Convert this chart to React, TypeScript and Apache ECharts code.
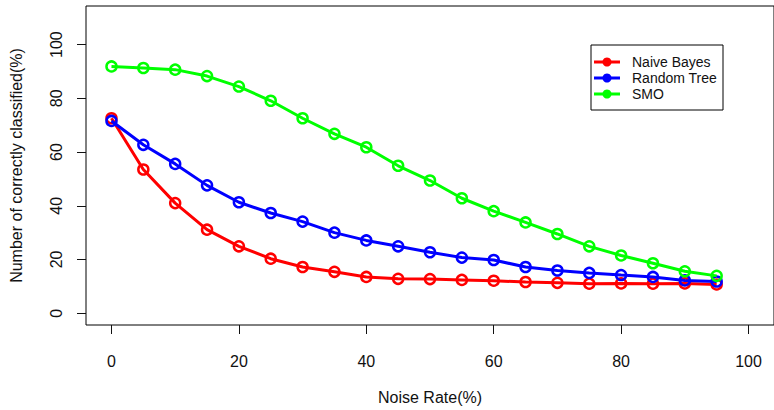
import React, { useEffect, useRef } from "react";
import * as echarts from "echarts";

const noiseRates = [0, 5, 10, 15, 20, 25, 30, 35, 40, 45, 50, 55, 60, 65, 70, 75, 80, 85, 90, 95];
const naiveBayes = [72.6, 53.5, 41.0, 31.1, 24.9, 20.3, 17.2, 15.4, 13.5, 12.8, 12.7, 12.4, 12.1, 11.6, 11.3, 11.0, 11.1, 11.0, 11.1, 10.7];
const randomTree = [71.6, 62.7, 55.6, 47.6, 41.3, 37.3, 34.1, 30.0, 27.1, 24.9, 22.7, 20.7, 19.8, 17.2, 15.9, 15.0, 14.2, 13.5, 12.2, 11.8];
const smo = [91.9, 91.3, 90.7, 88.3, 84.4, 79.1, 72.6, 66.8, 61.8, 54.9, 49.4, 42.8, 38.0, 33.8, 29.5, 24.9, 21.5, 18.6, 15.6, 13.9];
const xTicks = [0, 20, 40, 60, 80, 100];
const yTicks = [0, 20, 40, 60, 80, 100];
const seriesNames = ["Naive Bayes", "Random Tree", "SMO"];
const seriesColors = ["#ff0000", "#0000ff", "#00ff00"];

const FONT = "Liberation Sans, Arial, sans-serif";

export default function App() {
  const ref = useRef<HTMLDivElement>(null);
  useEffect(() => {
    if (!ref.current) return;
    const chart = echarts.init(ref.current, null, { renderer: "svg" });
    const values = [naiveBayes, randomTree, smo];
    const legendTop = 45;
    const rowY = [62, 78, 94];
    chart.setOption({
      animation: false,
      backgroundColor: "#ffffff",
      textStyle: { fontFamily: FONT },
      grid: {
        left: 86,
        top: 6,
        width: 690,
        height: 323,
        show: true,
        borderColor: "#000",
        borderWidth: 1,
        backgroundColor: "transparent",
      },
      xAxis: {
        type: "value",
        min: -4,
        max: 104,
        name: "Noise Rate(%)",
        nameLocation: "middle",
        nameGap: 64,
        nameTextStyle: { fontSize: 16, color: "#111", fontFamily: FONT },
        axisLine: { show: false, onZero: false },
        splitLine: { show: false },
        axisTick: {
          show: true,
          inside: false,
          customValues: xTicks,
          length: 9,
          lineStyle: { color: "#111", width: 1 },
        },
        axisLabel: {
          customValues: xTicks,
          fontSize: 16,
          color: "#111",
          margin: 28,
          fontFamily: FONT,
        },
      },
      yAxis: {
        type: "value",
        min: -4.4,
        max: 114.4,
        name: "Number of correctly classified(%)",
        nameLocation: "middle",
        nameGap: 62,
        nameTextStyle: { fontSize: 16, color: "#111", fontFamily: FONT },
        axisLine: { show: false, onZero: false },
        splitLine: { show: false },
        axisTick: {
          show: true,
          inside: false,
          customValues: yTicks,
          length: 9,
          lineStyle: { color: "#111", width: 1 },
        },
        axisLabel: {
          customValues: yTicks,
          fontSize: 16,
          color: "#111",
          rotate: 90,
          margin: 22,
          fontFamily: FONT,
        },
      },
      series: values.map((vals, i) => ({
        name: seriesNames[i],
        type: "line",
        data: noiseRates.map((x, j) => [x, vals[j]]),
        symbol: "circle",
        symbolSize: 10,
        lineStyle: { color: seriesColors[i], width: 3 },
        itemStyle: { color: "rgba(255,255,255,0)", borderColor: seriesColors[i], borderWidth: 2.5 },
        z: 2 + i,
      })),
      graphic: [
        {
          type: "rect",
          shape: { x: 591, y: legendTop, width: 132, height: 65 },
          style: { fill: "#fff", stroke: "#000", lineWidth: 1 },
          z: 10,
        },
        ...seriesNames.flatMap((name, i) => [
          {
            type: "line",
            shape: { x1: 594, y1: rowY[i], x2: 620, y2: rowY[i] },
            style: { stroke: seriesColors[i], lineWidth: 3 },
            z: 11,
          },
          {
            type: "circle",
            shape: { cx: 607, cy: rowY[i], r: 4.5 },
            style: { fill: seriesColors[i] },
            z: 12,
          },
          {
            type: "text",
            x: 632,
            y: rowY[i],
            style: {
              text: name,
              fontSize: 14,
              fontFamily: FONT,
              fill: "#111",
              verticalAlign: "middle",
              align: "left",
            },
            z: 12,
          },
        ]),
      ],
    });
    return () => chart.dispose();
  }, []);
  return (
    <div
      ref={ref}
      style={{ position: "absolute", left: 0, top: 0, width: 774, height: 410 }}
    />
  );
}
